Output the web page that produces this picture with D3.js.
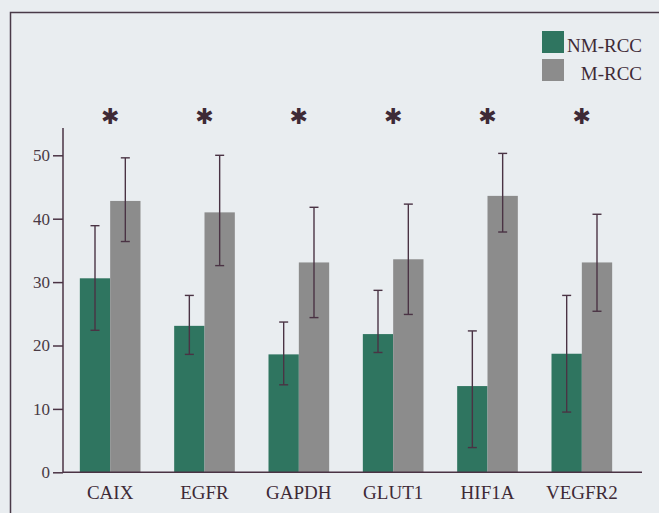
<!DOCTYPE html>
<html>
<head>
<meta charset="utf-8">
<script src="https://cdn.jsdelivr.net/npm/d3@7"></script>
<style>
  body { margin: 0; background: #e9edf0; }
  svg { display: block; }
</style>
</head>
<body>
<div id="chart"></div>
<script>
// data
var categories = ["CAIX", "EGFR", "GAPDH", "GLUT1", "HIF1A", "VEGFR2"];
var nmValues = [30.6, 23.1, 18.6, 21.8, 13.6, 18.7];
var nmLow    = [22.4, 18.6, 13.8, 18.9, 3.9, 9.5];
var nmHigh   = [38.9, 27.9, 23.7, 28.7, 22.3, 27.9];
var mValues  = [42.8, 41.0, 33.1, 33.6, 43.6, 33.1];
var mLow     = [36.4, 32.6, 24.4, 24.9, 37.9, 25.4];
var mHigh    = [49.6, 50.0, 41.8, 42.3, 50.3, 40.7];
var significant = [true, true, true, true, true, true];
var seriesNames = ["NM-RCC", "M-RCC"];
var yTicks = [0, 10, 20, 30, 40, 50];
var yAxisMax = 54.3;

var width = 659, height = 513;
var colors = ["#2f7560", "#8c8c8c"];
var ink = "#4a3344";
var serif = "'Liberation Serif', 'DejaVu Serif', serif";

var svg = d3.select("#chart").append("svg")
    .attr("width", width)
    .attr("height", height);

svg.append("rect")
    .attr("width", width).attr("height", height)
    .attr("fill", "#e9edf0");

// frame (only left and top edges show in the scan)
svg.append("path")
    .attr("d", "M10.5," + height + "V12.5H" + width)
    .attr("fill", "none")
    .attr("stroke", "#4a3a48")
    .attr("stroke-width", 1.5);

// scales
var x = d3.scaleBand()
    .domain(categories)
    .range([63, 629])
    .paddingInner(0.357)
    .paddingOuter(0.1785);

var x1 = d3.scaleBand()
    .domain(seriesNames)
    .range([0, x.bandwidth()]);

var y = d3.scaleLinear()
    .domain([0, 50])
    .range([472.3, 155.3]);

// build rows
var rows = categories.map(function (c, i) {
    return {
        cat: c,
        vals: [
            { s: seriesNames[0], v: nmValues[i], lo: nmLow[i], hi: nmHigh[i] },
            { s: seriesNames[1], v: mValues[i], lo: mLow[i], hi: mHigh[i] }
        ],
        sig: significant[i]
    };
});

var groups = svg.selectAll(".grp")
    .data(rows)
    .enter().append("g")
    .attr("class", "grp")
    .attr("transform", function (d) { return "translate(" + x(d.cat) + ",0)"; });

groups.selectAll("rect")
    .data(function (d) { return d.vals; })
    .enter().append("rect")
    .attr("x", function (d) { return x1(d.s); })
    .attr("width", x1.bandwidth())
    .attr("y", function (d) { return y(d.v); })
    .attr("height", function (d) { return y(0) - y(d.v); })
    .attr("fill", function (d, i) { return colors[i]; });

// error bars
var capW = 4.5;
var eb = groups.selectAll(".err")
    .data(function (d) { return d.vals; })
    .enter().append("g")
    .attr("class", "err")
    .attr("stroke", ink)
    .attr("stroke-width", 1.4);

eb.append("line")
    .attr("x1", function (d) { return x1(d.s) + x1.bandwidth() / 2; })
    .attr("x2", function (d) { return x1(d.s) + x1.bandwidth() / 2; })
    .attr("y1", function (d) { return y(d.lo); })
    .attr("y2", function (d) { return y(d.hi); });
eb.append("line")
    .attr("x1", function (d) { return x1(d.s) + x1.bandwidth() / 2 - capW; })
    .attr("x2", function (d) { return x1(d.s) + x1.bandwidth() / 2 + capW; })
    .attr("y1", function (d) { return y(d.hi); })
    .attr("y2", function (d) { return y(d.hi); });
eb.append("line")
    .attr("x1", function (d) { return x1(d.s) + x1.bandwidth() / 2 - capW; })
    .attr("x2", function (d) { return x1(d.s) + x1.bandwidth() / 2 + capW; })
    .attr("y1", function (d) { return y(d.lo); })
    .attr("y2", function (d) { return y(d.lo); });

// significance asterisks
groups.filter(function (d) { return d.sig; })
    .append("text")
    .attr("x", x.bandwidth() / 2)
    .attr("y", 124)
    .attr("text-anchor", "middle")
    .attr("font-family", "DejaVu Sans")
    .attr("font-size", 22)
    .attr("fill", "#3e2a36")
    .text("\u2731");

// y axis
var yAxis = svg.append("g")
    .attr("transform", "translate(63,0)")
    .call(d3.axisLeft(y).tickValues(yTicks).tickSize(10).tickPadding(3))
    .attr("font-family", serif)
    .attr("font-size", 17);
yAxis.select(".domain").remove();
yAxis.selectAll(".tick line").attr("stroke", ink).attr("stroke-width", 1.5);
yAxis.selectAll(".tick text").attr("fill", "#4a3a44");

svg.append("line")
    .attr("x1", 63).attr("x2", 63)
    .attr("y1", y(0)).attr("y2", y(yAxisMax))
    .attr("stroke", ink).attr("stroke-width", 1.5);

// x axis
var xAxis = svg.append("g")
    .attr("transform", "translate(0," + y(0) + ")")
    .call(d3.axisBottom(x).tickSize(0).tickPadding(13))
    .attr("font-family", serif)
    .attr("font-size", 19);
xAxis.select(".domain").remove();
xAxis.selectAll(".tick text").attr("fill", "#3e2a36");

svg.append("line")
    .attr("x1", 63).attr("x2", 642)
    .attr("y1", y(0)).attr("y2", y(0))
    .attr("stroke", ink).attr("stroke-width", 1.5);

// legend
var legend = svg.append("g");
seriesNames.forEach(function (name, i) {
    legend.append("rect")
        .attr("x", 542).attr("y", 31 + i * 28)
        .attr("width", 22).attr("height", 22)
        .attr("fill", colors[i]);
    legend.append("text")
        .attr("x", 642).attr("y", 52 + i * 28)
        .attr("text-anchor", "end")
        .attr("font-family", serif)
        .attr("font-size", 19)
        .attr("fill", "#3e2a36")
        .text(name);
});
</script>
</body>
</html>
